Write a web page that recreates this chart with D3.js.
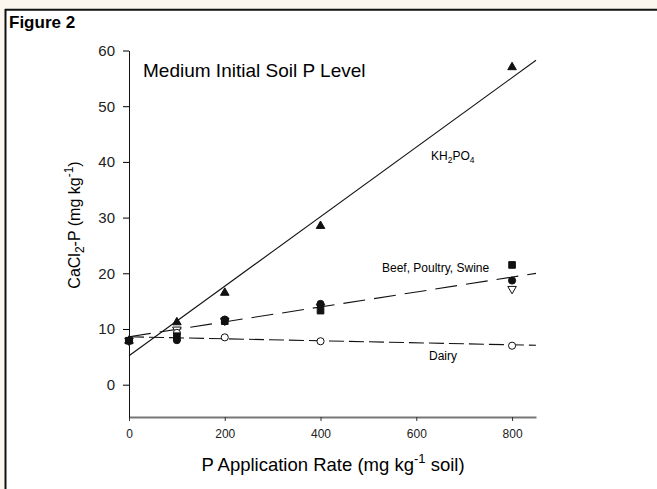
<!DOCTYPE html>
<html>
<head>
<meta charset="utf-8">
<script src="https://cdn.jsdelivr.net/npm/d3@7"></script>
<style>
  body { margin: 0; background: #fbf6ee; }
  svg { display: block; font-family: Arial, "Liberation Sans", sans-serif; }
</style>
</head>
<body>
<div id="chart-area"></div>
<script>
// rates (mg kg-1) and measured CaCl2-P per manure source
var rates = [0, 100, 200, 400, 800];
var kh2po4 = [7.9, 11.2, 16.5, 28.5, 57.0];
var beef = [7.9, 8.0, 11.7, 14.5, 18.7];
var poultry = [7.9, 8.7, 11.4, 13.3, 21.5];
var swine = [7.9, 9.9, 11.5, 14.0, 17.2];
var dairy = [7.9, 9.3, 8.5, 7.8, 7.0];

// fitted regression lines [intercept, slope]
var fitKH = [5.2, 0.0624];
var fitBPS = [8.6, 0.0134];
var fitDairy = [8.6, -0.0018];

var xTicks = [0, 200, 400, 600, 800];
var yTicks = [0, 10, 20, 30, 40, 50, 60];

var svg = d3.select("#chart-area").append("svg")
    .attr("width", 657)
    .attr("height", 489);

// white panel with dark frame line on top/left
svg.append("rect").attr("x", 6).attr("y", 10).attr("width", 660).attr("height", 490).attr("fill", "white");
svg.append("line").attr("x1", 5.5).attr("x2", 5.5).attr("y1", 9).attr("y2", 489).attr("stroke", "#111").attr("stroke-width", 2);
svg.append("line").attr("x1", 5).attr("x2", 657).attr("y1", 9.8).attr("y2", 9.8).attr("stroke", "#111").attr("stroke-width", 2);

svg.append("text").attr("x", 9).attr("y", 28)
    .attr("font-weight", "bold").attr("font-size", 17).text("Figure 2");

var x = d3.scaleLinear().domain([0, 850]).range([129, 536]);
var y = d3.scaleLinear().domain([-5.8, 60]).range([417, 50.5]);

// axes
var xAxis = svg.append("g").attr("transform", "translate(0,417)")
    .call(d3.axisBottom(x).tickValues(xTicks).tickSize(4).tickSizeOuter(0).tickPadding(8));
xAxis.select(".domain").attr("stroke", "#777").attr("stroke-width", 1.8);
xAxis.selectAll(".tick line").attr("stroke", "#333");
xAxis.selectAll("text").attr("font-size", 12).attr("fill", "#222");

var yAxis = svg.append("g").attr("transform", "translate(129,0)")
    .call(d3.axisLeft(y).tickValues(yTicks).tickSize(6).tickSizeOuter(0).tickPadding(8));
yAxis.selectAll("text").attr("font-size", 15).attr("fill", "#222");
yAxis.select(".domain").attr("stroke", "#111");

// regression lines
function fitLine(f, dash) {
    svg.append("line")
        .attr("x1", x(0)).attr("y1", y(f[0]))
        .attr("x2", x(850)).attr("y2", y(f[0] + f[1] * 850))
        .attr("stroke", "#111").attr("stroke-width", 1.1)
        .attr("stroke-dasharray", dash);
}
fitLine(fitKH, null);
fitLine(fitBPS, "22,9");
fitLine(fitDairy, "15,5");

function pts(vals, type, fill) {
    svg.append("g").selectAll("path")
        .data(vals)
        .enter()
        .append("path")
            .attr("transform", function(d, i) {
                var rot = type === "tridown" ? " rotate(180)" : "";
                return "translate(" + x(rates[i]) + "," + y(d) + ")" + rot;
            })
            .attr("d", function() {
                if (type === "circle") return d3.symbol().type(d3.symbolCircle).size(40)();
                if (type === "square") return d3.symbol().type(d3.symbolSquare).size(44)();
                return d3.symbol().type(d3.symbolTriangle).size(32)();
            })
            .attr("fill", fill)
            .attr("stroke", "#111")
            .attr("stroke-width", 1);
}
pts(swine, "tridown", "white");
pts(dairy, "circle", "white");
pts(poultry, "square", "#111");
pts(beef, "circle", "#111");
pts(kh2po4, "triangle", "#111");

// annotations
svg.append("text").attr("x", 143).attr("y", 77).attr("font-size", 19).text("Medium Initial Soil P Level");

var kh = svg.append("text").attr("x", 431).attr("y", 160).attr("font-size", 12);
kh.append("tspan").text("KH");
kh.append("tspan").attr("font-size", 8.5).attr("dy", 3).text("2");
kh.append("tspan").attr("dy", -3).text("PO");
kh.append("tspan").attr("font-size", 8.5).attr("dy", 3).text("4");

svg.append("text").attr("x", 382).attr("y", 272).attr("font-size", 12).text("Beef, Poultry, Swine");
svg.append("text").attr("x", 429).attr("y", 360).attr("font-size", 12).text("Dairy");

// axis titles
var yl = svg.append("text")
    .attr("transform", "translate(80,225) rotate(-90)")
    .attr("text-anchor", "middle").attr("font-size", 16);
yl.append("tspan").text("CaCl");
yl.append("tspan").attr("font-size", 12).attr("dy", 4).text("2");
yl.append("tspan").attr("dy", -4).text("-P (mg kg");
yl.append("tspan").attr("font-size", 12).attr("dy", -7).text("-1");
yl.append("tspan").attr("dy", 7).text(")");

var xl = svg.append("text").attr("x", 333).attr("y", 471)
    .attr("text-anchor", "middle").attr("font-size", 18.5);
xl.append("tspan").text("P Application Rate (mg kg");
xl.append("tspan").attr("font-size", 13).attr("dy", -8).text("-1");
xl.append("tspan").attr("dy", 8).text(" soil)");
</script>
</body>
</html>
